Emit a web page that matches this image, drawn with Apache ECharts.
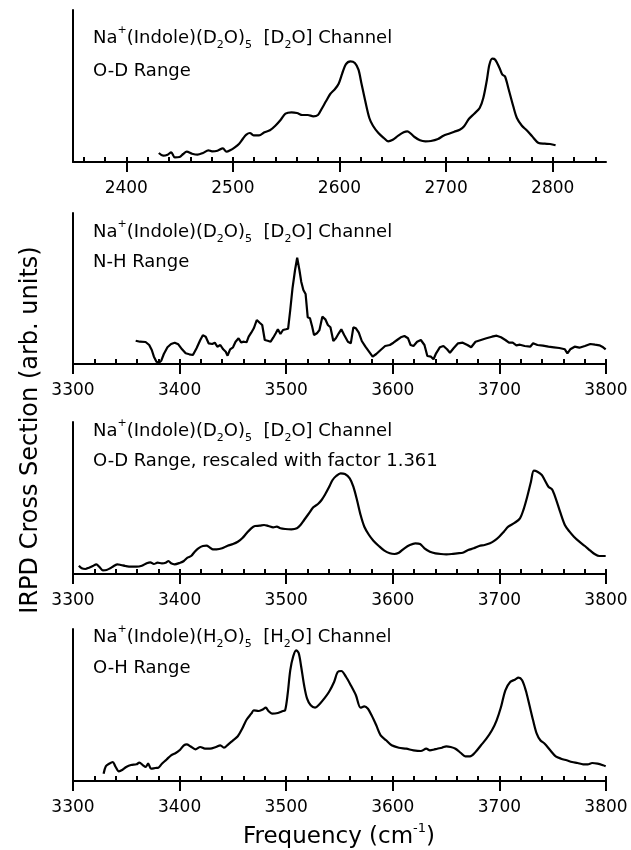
<!DOCTYPE html>
<html>
<head>
<meta charset="utf-8">
<script src="https://cdn.jsdelivr.net/npm/echarts@6/dist/echarts.min.js"></script>
<style>
  html, body { margin: 0; padding: 0; background: #fff; }
  #chart { width: 631px; height: 850px; }
</style>
</head>
<body>
<div id="chart"></div>
<script>
// panel 1: Na+(Indole)(D2O)5 [D2O] channel, O-D range
var freq1 = [2430.5, 2434.6, 2438.7, 2442.1, 2445.5, 2449.9, 2453.3, 2456.7, 2461.7, 2466.8, 2471.9, 2477.0, 2480.4, 2485.5, 2490.6, 2494.0, 2497.4, 2501.8, 2505.9, 2509.2, 2512.6, 2516.0, 2519.4, 2524.5, 2529.6, 2534.7, 2539.8, 2544.9, 2549.3, 2555.0, 2560.1, 2565.2, 2570.3, 2575.4, 2579.8, 2583.2, 2587.3, 2591.3, 2595.8, 2599.2, 2602.5, 2605.9, 2610.3, 2614.4, 2617.8, 2620.5, 2623.9, 2628.0, 2631.4, 2636.5, 2641.6, 2645.6, 2650.0, 2655.1, 2660.2, 2663.6, 2667.0, 2670.4, 2675.5, 2680.6, 2685.7, 2692.4, 2697.5, 2702.6, 2707.7, 2712.8, 2716.9, 2721.3, 2726.4, 2731.5, 2734.9, 2738.3, 2740.6, 2743.3, 2746.1, 2750.1, 2752.8, 2755.2, 2758.6, 2763.0, 2766.4, 2771.1, 2775.6, 2780.7, 2786.8, 2792.5, 2797.6, 2802.7];
var ir1 = [9.0, 6.3, 7.3, 9.7, 4.7, 5.0, 8.0, 10.3, 8.3, 7.3, 9.0, 11.7, 10.7, 11.3, 13.7, 10.3, 11.7, 14.7, 18.3, 23.0, 27.3, 29.0, 26.7, 26.7, 29.7, 31.7, 36.3, 42.3, 48.3, 49.7, 49.0, 47.0, 47.0, 45.7, 47.0, 53.0, 60.7, 68.0, 73.0, 78.3, 88.3, 97.7, 100.7, 99.0, 92.3, 79.0, 62.3, 44.0, 36.3, 29.0, 24.0, 20.7, 22.3, 26.3, 29.7, 30.7, 28.3, 25.0, 21.7, 20.7, 21.0, 23.0, 26.3, 28.3, 30.3, 32.3, 35.7, 43.0, 48.3, 54.0, 64.0, 82.3, 97.3, 103.3, 102.3, 94.0, 87.3, 85.7, 73.0, 55.7, 44.0, 36.3, 31.7, 25.7, 19.0, 18.3, 18.0, 16.7];

// panel 2: [D2O] channel, N-H range
var freq2 = [3358.8, 3362.9, 3368.1, 3371.5, 3373.9, 3375.9, 3378.3, 3380.7, 3382.8, 3385.2, 3388.6, 3392.0, 3395.4, 3398.8, 3402.3, 3405.7, 3409.1, 3412.5, 3415.9, 3419.4, 3421.8, 3424.5, 3427.2, 3430.6, 3433.0, 3435.4, 3438.2, 3440.9, 3443.3, 3445.0, 3447.4, 3450.1, 3452.5, 3455.3, 3457.7, 3460.4, 3462.8, 3464.8, 3467.2, 3469.6, 3472.4, 3475.1, 3477.5, 3479.9, 3482.6, 3485.4, 3487.8, 3490.2, 3492.2, 3494.6, 3497.0, 3499.7, 3501.8, 3503.8, 3505.9, 3508.3, 3510.3, 3512.4, 3514.1, 3516.1, 3518.2, 3520.2, 3522.3, 3524.4, 3526.1, 3528.8, 3531.2, 3533.9, 3536.7, 3539.1, 3541.5, 3544.2, 3546.6, 3549.3, 3551.7, 3554.4, 3557.9, 3560.6, 3563.0, 3565.4, 3568.1, 3570.9, 3574.3, 3577.7, 3581.1, 3584.5, 3588.6, 3592.8, 3597.2, 3600.6, 3604.0, 3607.5, 3610.9, 3614.3, 3616.7, 3619.4, 3622.8, 3626.3, 3629.7, 3632.4, 3635.8, 3638.2, 3640.6, 3644.1, 3647.5, 3650.9, 3653.6, 3657.0, 3661.2, 3665.6, 3670.0, 3673.5, 3677.6, 3682.7, 3687.8, 3693.0, 3697.4, 3701.5, 3705.6, 3709.0, 3712.5, 3715.9, 3719.3, 3723.7, 3728.9, 3731.6, 3735.7, 3740.8, 3746.0, 3751.1, 3756.2, 3761.4, 3763.8, 3766.5, 3770.6, 3775.0, 3780.2, 3785.3, 3789.7, 3793.8, 3797.3, 3799.7];
var ir2 = [23.3, 22.3, 22.0, 19.0, 14.0, 7.3, 2.3, 1.3, 3.3, 10.0, 16.7, 20.0, 21.3, 19.7, 14.7, 10.7, 9.7, 9.0, 15.7, 24.0, 28.7, 27.3, 20.7, 20.0, 21.3, 17.3, 19.0, 14.7, 12.3, 8.3, 14.7, 16.7, 22.3, 25.7, 21.7, 22.3, 21.7, 27.3, 31.3, 35.7, 44.0, 41.3, 39.0, 24.0, 23.3, 22.3, 26.3, 30.7, 34.7, 30.0, 34.0, 34.7, 35.3, 54.0, 75.7, 94.0, 106.3, 94.0, 82.3, 74.0, 70.0, 46.7, 45.7, 37.3, 29.0, 30.7, 34.0, 47.3, 44.7, 39.0, 36.7, 23.0, 25.7, 30.7, 34.7, 29.0, 22.3, 20.7, 36.7, 35.7, 31.3, 23.0, 17.3, 12.3, 7.3, 10.0, 14.0, 18.0, 19.0, 21.3, 24.0, 26.7, 28.0, 25.7, 19.0, 18.0, 22.3, 24.0, 19.0, 8.0, 7.3, 4.7, 10.7, 16.7, 18.0, 14.7, 11.3, 15.7, 20.7, 21.3, 19.0, 16.7, 22.3, 24.0, 25.7, 27.3, 28.3, 26.7, 24.0, 21.3, 21.3, 18.7, 19.3, 18.0, 17.3, 20.7, 19.0, 18.3, 17.3, 16.7, 16.0, 14.7, 10.7, 14.7, 17.3, 16.3, 18.0, 20.0, 19.3, 18.7, 16.7, 14.7];

// panel 3: [D2O] channel, O-D range rescaled by 1.361
var freq3 = [3305.5, 3308.2, 3311.6, 3315.0, 3318.5, 3321.9, 3324.6, 3328.0, 3331.5, 3334.9, 3338.3, 3341.7, 3345.1, 3349.2, 3354.4, 3359.5, 3364.6, 3369.1, 3372.5, 3375.9, 3379.3, 3383.4, 3386.9, 3389.6, 3392.0, 3395.4, 3400.5, 3404.0, 3407.4, 3410.8, 3414.2, 3417.6, 3421.8, 3425.2, 3428.6, 3431.3, 3434.7, 3439.9, 3445.0, 3450.1, 3454.6, 3458.7, 3462.8, 3467.2, 3470.7, 3475.1, 3479.2, 3483.3, 3487.8, 3491.2, 3494.6, 3499.0, 3504.9, 3510.0, 3513.4, 3516.8, 3520.9, 3525.4, 3529.8, 3533.2, 3536.7, 3540.1, 3543.5, 3546.9, 3551.0, 3555.1, 3559.6, 3563.0, 3566.4, 3569.8, 3573.3, 3577.7, 3581.8, 3586.9, 3592.1, 3597.2, 3601.6, 3605.7, 3610.9, 3616.0, 3621.1, 3625.6, 3629.7, 3634.8, 3640.0, 3645.1, 3650.2, 3655.3, 3660.5, 3665.6, 3670.7, 3675.9, 3681.0, 3686.1, 3691.2, 3695.4, 3699.8, 3704.2, 3708.3, 3714.5, 3719.3, 3722.7, 3726.1, 3729.6, 3732.3, 3735.7, 3739.8, 3742.5, 3746.0, 3749.4, 3752.8, 3756.9, 3761.4, 3765.8, 3769.9, 3775.0, 3780.2, 3785.3, 3789.7, 3793.8, 3799.7];
var ir3 = [8.3, 5.7, 5.0, 6.3, 8.0, 9.7, 7.3, 3.7, 4.0, 5.7, 8.0, 9.7, 9.0, 8.0, 7.3, 7.3, 8.3, 10.7, 11.7, 10.0, 11.3, 10.7, 11.3, 13.0, 10.7, 9.7, 11.3, 13.0, 16.3, 18.0, 22.3, 25.7, 28.0, 28.3, 26.3, 24.7, 24.7, 25.7, 28.3, 30.0, 32.3, 35.7, 40.7, 45.7, 48.0, 48.3, 49.0, 48.0, 46.7, 47.3, 45.7, 45.0, 44.7, 45.7, 49.0, 54.0, 60.0, 66.7, 70.0, 74.0, 80.0, 86.7, 94.0, 98.0, 100.7, 100.0, 95.7, 87.3, 74.0, 59.0, 47.3, 39.0, 33.3, 28.0, 23.3, 20.7, 20.0, 21.3, 25.7, 29.0, 30.7, 30.0, 25.7, 22.3, 20.7, 20.0, 19.7, 20.0, 20.7, 21.3, 24.0, 25.7, 28.0, 29.0, 30.7, 33.3, 37.3, 42.3, 47.3, 51.3, 55.7, 64.7, 77.3, 92.3, 103.3, 102.3, 99.0, 94.0, 87.3, 84.7, 75.7, 62.3, 49.0, 42.3, 37.3, 32.3, 28.0, 23.3, 19.7, 18.0, 18.0];

// panel 4: Na+(Indole)(H2O)5 [H2O] channel, O-H range
var freq4 = [3328.7, 3330.8, 3333.9, 3337.3, 3339.7, 3343.1, 3346.5, 3349.9, 3354.4, 3359.5, 3362.2, 3365.7, 3368.1, 3370.5, 3373.2, 3377.3, 3380.0, 3383.4, 3387.6, 3392.0, 3396.4, 3400.5, 3404.0, 3406.7, 3410.1, 3414.9, 3419.4, 3423.8, 3428.6, 3434.1, 3438.2, 3441.6, 3445.7, 3450.1, 3454.6, 3458.7, 3462.8, 3467.2, 3469.6, 3474.1, 3477.5, 3480.9, 3483.3, 3486.7, 3492.2, 3497.0, 3499.0, 3501.4, 3503.8, 3506.6, 3509.3, 3511.7, 3514.1, 3516.8, 3519.6, 3523.0, 3527.1, 3531.2, 3535.6, 3540.1, 3544.9, 3548.3, 3551.7, 3556.2, 3560.6, 3565.4, 3569.8, 3573.3, 3576.7, 3580.1, 3584.5, 3588.6, 3593.8, 3598.9, 3605.7, 3612.6, 3619.4, 3626.3, 3631.4, 3634.8, 3638.2, 3641.7, 3646.1, 3650.2, 3654.3, 3658.8, 3663.9, 3668.0, 3672.4, 3677.6, 3682.7, 3687.8, 3693.0, 3697.4, 3701.5, 3705.6, 3710.1, 3714.5, 3717.9, 3721.3, 3724.7, 3728.2, 3731.6, 3735.0, 3738.4, 3742.5, 3747.7, 3752.8, 3757.9, 3763.1, 3768.2, 3773.3, 3778.5, 3782.9, 3787.0, 3792.1, 3797.3, 3799.7];
var ir4 = [7.3, 14.7, 17.3, 19.0, 14.7, 9.7, 11.3, 14.0, 16.0, 16.7, 18.3, 15.7, 14.0, 17.3, 12.3, 13.0, 13.3, 17.3, 21.3, 25.7, 28.0, 31.3, 35.7, 36.7, 34.7, 31.7, 34.0, 32.3, 32.3, 34.0, 35.7, 33.3, 36.7, 40.7, 44.7, 52.3, 61.3, 67.3, 70.7, 70.0, 71.3, 73.3, 70.0, 67.3, 68.0, 70.0, 70.7, 87.3, 110.7, 124.7, 130.7, 128.0, 114.0, 95.7, 82.3, 75.7, 73.3, 76.7, 82.3, 89.0, 99.0, 109.0, 110.0, 104.0, 95.7, 85.7, 73.3, 74.7, 72.3, 65.7, 55.7, 45.7, 40.7, 35.7, 33.3, 32.3, 30.7, 30.0, 32.3, 30.7, 31.3, 32.3, 33.3, 34.7, 34.0, 32.3, 28.0, 24.7, 24.7, 29.0, 35.7, 42.3, 50.7, 60.7, 74.0, 90.7, 99.0, 101.3, 103.3, 100.7, 90.7, 75.7, 60.7, 47.3, 40.7, 37.3, 30.7, 24.7, 22.3, 20.7, 19.0, 18.0, 16.7, 16.7, 18.0, 17.3, 15.7, 14.7];

// axis ranges and tick labels
var xRange1 = [2350, 2850];
var xRange2 = [3300, 3800];
var majorTicks1 = [2400, 2500, 2600, 2700, 2800];
var majorTicks2 = [3300, 3400, 3500, 3600, 3700, 3800];

var FONT = 'DejaVu Sans';

function range(a, b, step) {
  var out = [];
  for (var v = a; v <= b + 1e-9; v += step) out.push(v);
  return out;
}
var minorTicks1 = range(2360, 2840, 20);
var minorTicks2 = range(3300, 3800, 20);

function pairs(xs, ys) {
  return xs.map(function (x, i) { return [x, ys[i]]; });
}

var panels = [
  { top: 10, height: 152, range: xRange1, major: majorTicks1, minor: minorTicks1, data: pairs(freq1, ir1), smooth: 0.3 },
  { top: 213, height: 151, range: xRange2, major: majorTicks2, minor: minorTicks2, data: pairs(freq2, ir2), smooth: false },
  { top: 422, height: 152, range: xRange2, major: majorTicks2, minor: minorTicks2, data: pairs(freq3, ir3), smooth: 0.3 },
  { top: 629, height: 152, range: xRange2, major: majorTicks2, minor: minorTicks2, data: pairs(freq4, ir4), smooth: 0.3 }
];

var grids = [], xAxes = [], yAxes = [], series = [];
panels.forEach(function (p, i) {
  grids.push({ left: 73, width: 533, top: p.top, height: p.height });
  // major ticks + labels
  xAxes.push({
    type: 'value', gridIndex: i, min: p.range[0], max: p.range[1],
    axisLine: { show: true, onZero: false, lineStyle: { color: '#000', width: 2 } },
    axisTick: { show: true, length: 10, customValues: p.major, lineStyle: { color: '#000', width: 2 } },
    axisLabel: {
      show: true, customValues: p.major, margin: 18, color: '#000', fontSize: 17, fontFamily: FONT,
      formatter: function (v) { return String(v); }
    },
    splitLine: { show: false }
  });
  // minor ticks
  xAxes.push({
    type: 'value', gridIndex: i, min: p.range[0], max: p.range[1],
    axisLine: { show: false },
    axisTick: { show: true, length: 5, customValues: p.minor, lineStyle: { color: '#000', width: 2 } },
    axisLabel: { show: false },
    splitLine: { show: false }
  });
  yAxes.push({
    type: 'value', gridIndex: i, min: 0, max: p.height,
    axisLine: { show: true, lineStyle: { color: '#000', width: 2 } },
    axisTick: { show: false }, axisLabel: { show: false }, splitLine: { show: false }
  });
  series.push({
    type: 'line', xAxisIndex: i * 2, yAxisIndex: i, data: p.data,
    showSymbol: false, smooth: p.smooth, animation: false,
    lineStyle: { color: '#000', width: 2.2 }
  });
});

var rich = {
  n: { fontSize: 18, fontFamily: FONT, lineHeight: 26, fill: '#000' },
  sup: { fontSize: 11, fontFamily: FONT, lineHeight: 14, verticalAlign: 'top', fill: '#000' },
  sub: { fontSize: 11, fontFamily: FONT, lineHeight: 12, verticalAlign: 'bottom', fill: '#000' }
};

function titleText(w) {
  return '{n|Na}{sup|+}{n|(Indole)(' + w + '}{sub|2}{n|O)}{sub|5}{n|  [' + w + '}{sub|2}{n|O] Channel}';
}

var labels = [
  [titleText('D'), 38], ['O-D Range', 71],
  [titleText('D'), 232], ['N-H Range', 262],
  [titleText('D'), 431], ['O-D Range, rescaled with factor 1.361', 461],
  [titleText('H'), 637], ['O-H Range', 668]
];

var graphics = labels.map(function (l) {
  return {
    type: 'text', x: 93, y: l[1], silent: true,
    style: {
      text: l[0].charAt(0) === '{' ? l[0] : '{n|' + l[0] + '}',
      rich: rich, fill: '#000', align: 'left', verticalAlign: 'middle',
      textAlign: 'left', textVerticalAlign: 'middle'
    }
  };
});
graphics.push({
  type: 'text', x: 31, y: 430, rotation: Math.PI / 2, silent: true,
  style: {
    text: 'IRPD Cross Section (arb. units)', fill: '#000',
    font: '24px ' + FONT, align: 'center', verticalAlign: 'middle',
    textAlign: 'center', textVerticalAlign: 'middle'
  }
});
graphics.push({
  type: 'text', x: 339, y: 837, silent: true,
  style: {
    text: '{t|Frequency (cm}{s|-1}{t|)}', fill: '#000',
    align: 'center', verticalAlign: 'middle', textAlign: 'center', textVerticalAlign: 'middle',
    rich: {
      t: { fontSize: 23, fontFamily: FONT, lineHeight: 30, fill: '#000' },
      s: { fontSize: 13, fontFamily: FONT, lineHeight: 16, verticalAlign: 'top', fill: '#000' }
    }
  }
});

var chart = echarts.init(document.getElementById('chart'));
chart.setOption({
  animation: false,
  backgroundColor: '#fff',
  grid: grids,
  xAxis: xAxes,
  yAxis: yAxes,
  series: series,
  graphic: graphics
});
</script>
</body>
</html>
